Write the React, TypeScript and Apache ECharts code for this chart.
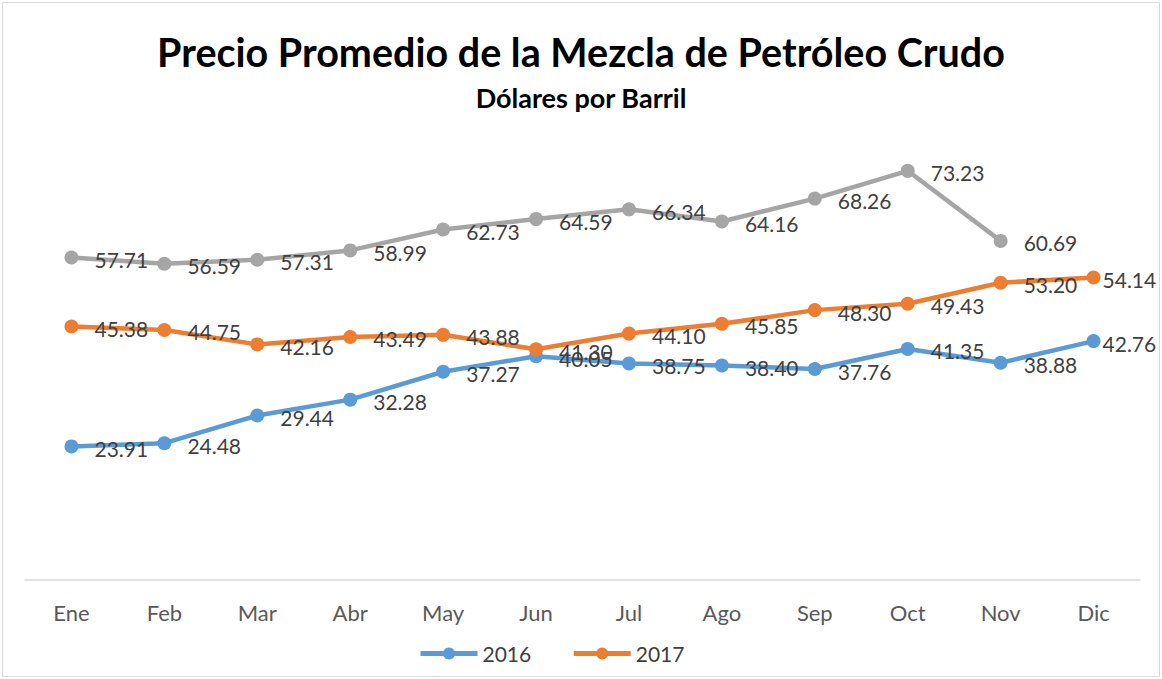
import React, { useEffect, useRef } from "react";
import * as echarts from "echarts";

const months = ["Ene", "Feb", "Mar", "Abr", "May", "Jun", "Jul", "Ago", "Sep", "Oct", "Nov", "Dic"];
const s2016 = [23.91, 24.48, 29.44, 32.28, 37.27, 40.05, 38.75, 38.4, 37.76, 41.35, 38.88, 42.76];
const s2017 = [45.38, 44.75, 42.16, 43.49, 43.88, 41.3, 44.1, 45.85, 48.3, 49.43, 53.2, 54.14];
const s2018 = [57.71, 56.59, 57.31, 58.99, 62.73, 64.59, 66.34, 64.16, 68.26, 73.23, 60.69, null];

const FONT = "Lato, 'Open Sans', sans-serif";

export default function App() {
  const ref = useRef<HTMLDivElement>(null);
  useEffect(() => {
    document.body.style.margin = "0";
    const chart = echarts.init(ref.current!, null, { renderer: "svg" });
    const mk = (name: string, data: (number | null)[], color: string) => ({
      name,
      type: "line",
      data: data.map((v, i) =>
        i === data.length - 1 && v != null ? { value: v, label: { distance: 2 } } : v
      ),
      symbol: "circle",
      symbolSize: 14,
      lineStyle: { width: 4.5, color },
      itemStyle: { color },
      label: {
        show: true,
        position: "right",
        distance: 16,
        offset: [0, 2],
        formatter: (p: any) => Number(p.value).toFixed(2),
        color: "#404040",
        fontSize: 21,
        fontFamily: FONT,
      },
    });
    chart.setOption({
      animation: false,
      backgroundColor: "#fff",
      textStyle: { fontFamily: FONT },
      title: [
        {
          text: "Precio Promedio de la Mezcla de Petróleo Crudo",
          left: "center",
          top: 26,
          textStyle: { fontSize: 39.5, fontWeight: "bold", color: "#000", fontFamily: FONT },
        },
        {
          text: "Dólares por Barril",
          left: "center",
          top: 79,
          textStyle: { fontSize: 27, fontWeight: "bold", color: "#000", fontFamily: FONT },
        },
      ],
      graphic: [
        {
          type: "rect",
          shape: { x: 2.5, y: 2.5, width: 1157, height: 674 },
          style: { fill: "none", stroke: "#d9d9d9", lineWidth: 1 },
          silent: true,
        },
      ],
      legend: {
        data: ["2016", "2017"],
        bottom: 10,
        left: 413,
        itemWidth: 57,
        itemHeight: 15,
        itemGap: 40,
        lineStyle: { width: 5 },
        textStyle: { fontSize: 21, color: "#404040", fontFamily: FONT },
      },
      grid: { left: 25, right: 22, top: 133, bottom: 99, containLabel: false },
      xAxis: {
        type: "category",
        data: months,
        boundaryGap: true,
        axisLine: { lineStyle: { color: "#d9d9d9", width: 1.5 } },
        axisTick: { show: false },
        axisLabel: { color: "#595959", fontSize: 22, margin: 21, fontFamily: FONT },
      },
      yAxis: {
        type: "value",
        min: 0,
        max: 80,
        show: false,
        splitLine: { show: false },
      },
      series: [mk("2016", s2016, "#5B9BD5"), mk("2017", s2017, "#ED7D31"), mk("2018", s2018, "#A5A5A5")],
    });
    return () => chart.dispose();
  }, []);
  return <div ref={ref} style={{ width: 1162, height: 679 }} />;
}
